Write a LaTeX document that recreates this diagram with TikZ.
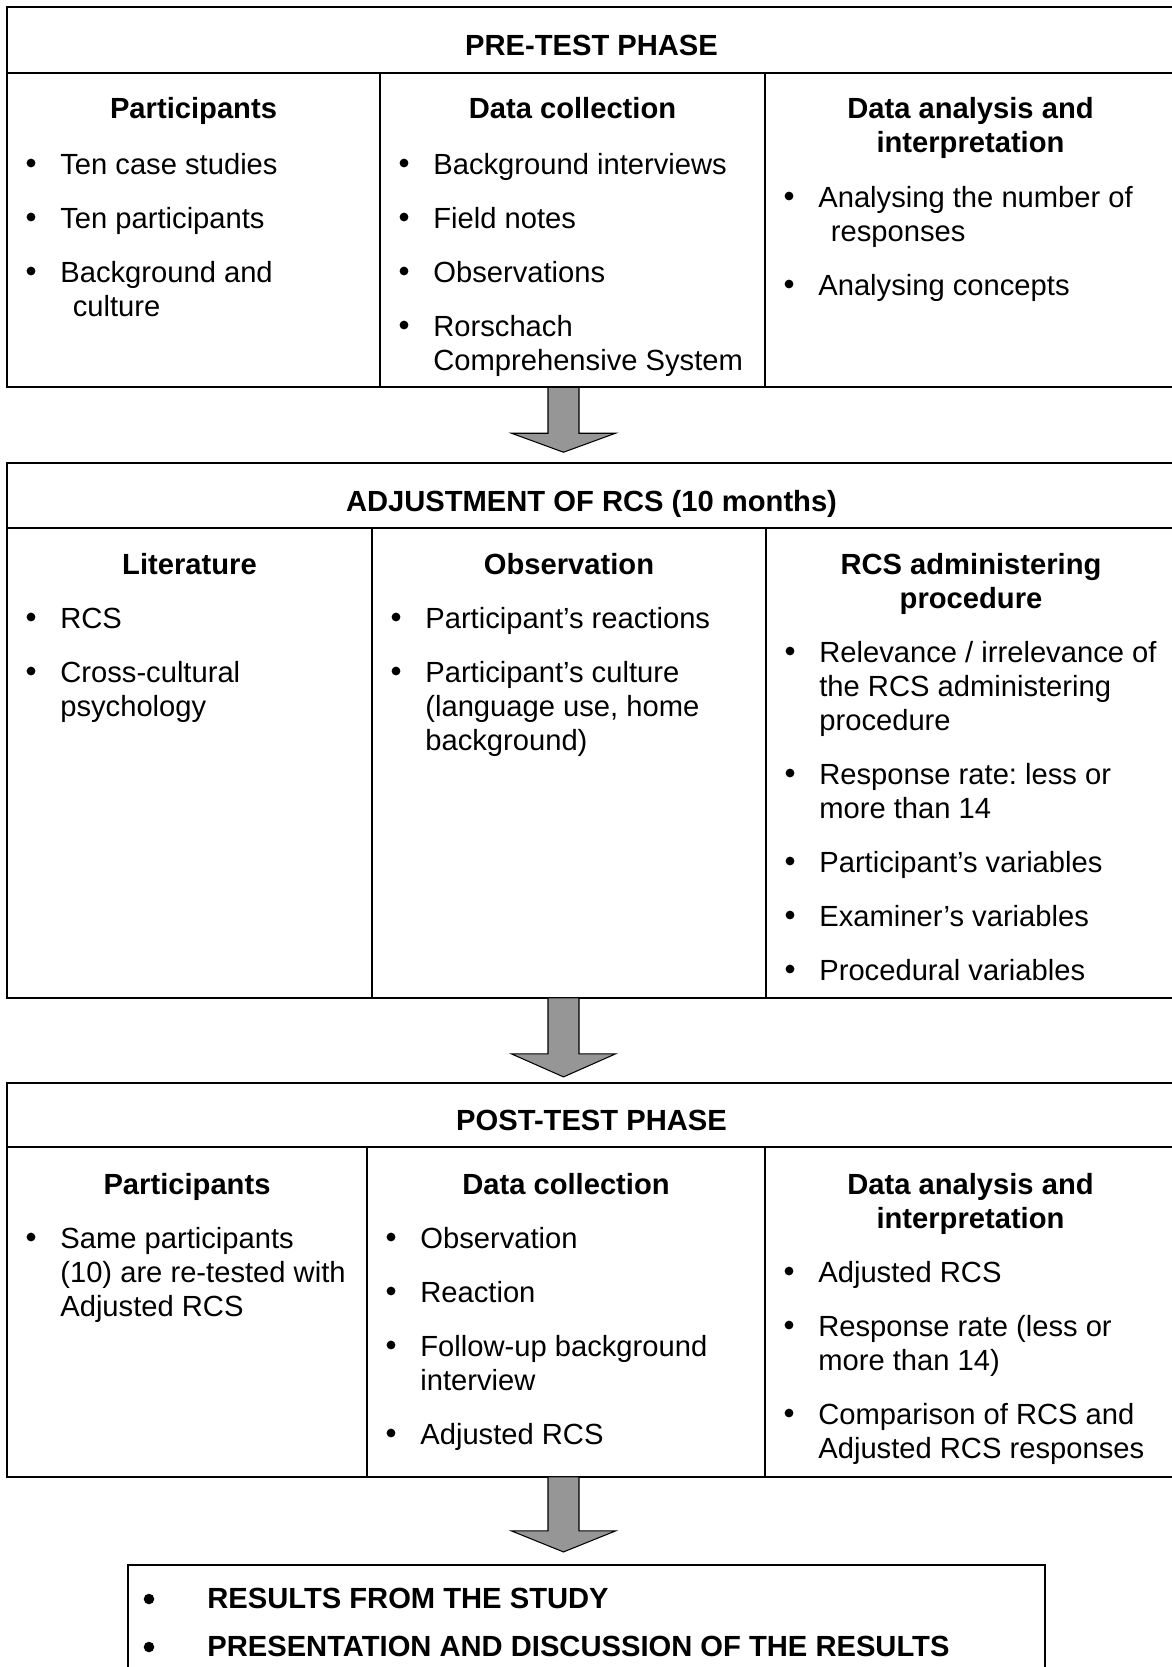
\documentclass[tikz,border=0pt]{standalone}
\usepackage{fontspec}
\setmainfont{Liberation Sans}
\usepackage{tikz}

\definecolor{arrowgray}{RGB}{150,150,150}
\newcommand{\bodyfont}{\fontsize{16.6}{19.4}\selectfont\frenchspacing}
\newcommand{\bulletdot}[2]{\fill (#1,#2) circle (2.5pt);}

\begin{document}
\begin{tikzpicture}[x=0.02cm, y=-0.02cm,
    frame/.style={draw, rectangle, line width=1.1pt, inner sep=0pt, outer sep=0pt, anchor=north west},
    rule/.style={line width=1.1pt},
    phasehead/.style={inner sep=0pt, anchor=base, font=\bodyfont\bfseries},
    coltitle/.style={inner sep=0pt, anchor=base, font=\bodyfont\bfseries},
    entry/.style={inner sep=0pt, anchor=base west, font=\bodyfont},
    bigarrow/.style={draw, fill=arrowgray, line width=0.6pt}
]
\useasboundingbox (0,0) rectangle (1172,1667);
\coordinate (axis) at (563.5,0);

% ====================== PRE-TEST PHASE ======================
\node[frame, minimum width=23.37cm, minimum height=7.6cm] (pre) at (7.3,7.3) {};
\draw[rule] (7.3,72.7) -- (1176,72.7);
\draw[rule] (380,72.7) -- (380,387.3);
\draw[rule] (765,72.7) -- (765,387.3);
\node[phasehead] (prehead) at (591.5,55) {PRE-TEST PHASE};

\node[coltitle] (prepart) at (193.5,118.5) {Participants};
\bulletdot{31}{163} \node[entry] (tencase) at (60,174) {Ten case studies};
\bulletdot{31}{217} \node[entry] (tenpart) at (60,228) {Ten participants};
\bulletdot{31}{271} \node[entry] (backcult) at (60,282) {Background and};
\node[entry] (backcultb) at (72.5,316) {culture};

\node[coltitle] (predata) at (572.5,118.5) {Data collection};
\bulletdot{404}{163} \node[entry] (backint) at (433,174) {Background interviews};
\bulletdot{404}{217} \node[entry] (field) at (433,228) {Field notes};
\bulletdot{404}{271} \node[entry] (observ) at (433,282) {Observations};
\bulletdot{404}{325} \node[entry] (rorsch) at (433,336) {Rorschach};
\node[entry] (rorschb) at (433,370) {Comprehensive System};

\node[coltitle] (preana) at (970.5,118.5) {Data analysis and};
\node[coltitle] (preanab) at (970.5,152.5) {interpretation};
\bulletdot{789}{196} \node[entry] (numresp) at (818,207) {Analysing the number of};
\node[entry] (numrespb) at (830.5,241) {responses};
\bulletdot{789}{284} \node[entry] (concepts) at (818,295) {Analysing concepts};

% ====================== ADJUSTMENT OF RCS ======================
\node[frame, minimum width=23.37cm, minimum height=10.7cm] (adj) at (7.3,463) {};
\draw[rule] (7.3,528) -- (1176,528);
\draw[rule] (372,528) -- (372,998);
\draw[rule] (766,528) -- (766,998);
\node[phasehead] (adjhead) at (591.5,511) {ADJUSTMENT OF RCS (10 months)};

\node[coltitle] (adjlit) at (189.5,574) {Literature};
\bulletdot{31}{617} \node[entry] (rcs) at (60,628) {RCS};
\bulletdot{31}{671} \node[entry] (crosscult) at (60,682) {Cross-cultural};
\node[entry] (crosscultb) at (60,716) {psychology};

\node[coltitle] (adjobs) at (569,574) {Observation};
\bulletdot{396}{617} \node[entry] (reactions) at (425,628) {Participant’s reactions};
\bulletdot{396}{671} \node[entry] (culture) at (425,682) {Participant’s culture};
\node[entry] (cultureb) at (425,716) {(language use, home};
\node[entry] (culturec) at (425,750) {background)};

\node[coltitle] (adjproc) at (971,574) {RCS administering};
\node[coltitle] (adjprocb) at (971,608) {procedure};
\bulletdot{790}{651} \node[entry] (relev) at (819,662) {Relevance / irrelevance of};
\node[entry] (relevb) at (819,696) {the RCS administering};
\node[entry] (relevc) at (819,730) {procedure};
\bulletdot{790}{773} \node[entry] (rate) at (819,784) {Response rate: less or};
\node[entry] (rateb) at (819,818) {more than 14};
\bulletdot{790}{861} \node[entry] (partvar) at (819,872) {Participant’s variables};
\bulletdot{790}{915} \node[entry] (examvar) at (819,926) {Examiner’s variables};
\bulletdot{790}{969} \node[entry] (procvar) at (819,980) {Procedural variables};

% ====================== POST-TEST PHASE ======================
\node[frame, minimum width=23.37cm, minimum height=7.88cm] (post) at (7.3,1083) {};
\draw[rule] (7.3,1147) -- (1176,1147);
\draw[rule] (367,1147) -- (367,1477);
\draw[rule] (765,1147) -- (765,1477);
\node[phasehead] (posthead) at (591.5,1130) {POST-TEST PHASE};

\node[coltitle] (postpart) at (187,1194) {Participants};
\bulletdot{31}{1237} \node[entry] (same) at (60,1248) {Same participants};
\node[entry] (sameb) at (60,1282) {(10) are re-tested with};
\node[entry] (samec) at (60,1316) {Adjusted RCS};

\node[coltitle] (postdata) at (566,1194) {Data collection};
\bulletdot{391}{1237} \node[entry] (pobs) at (420,1248) {Observation};
\bulletdot{391}{1291} \node[entry] (preact) at (420,1302) {Reaction};
\bulletdot{391}{1345} \node[entry] (follow) at (420,1356) {Follow-up background};
\node[entry] (followb) at (420,1390) {interview};
\bulletdot{391}{1433} \node[entry] (padj) at (420,1444) {Adjusted RCS};

\node[coltitle] (postana) at (970.5,1194) {Data analysis and};
\node[coltitle] (postanab) at (970.5,1228) {interpretation};
\bulletdot{789}{1271} \node[entry] (aadj) at (818,1282) {Adjusted RCS};
\bulletdot{789}{1325} \node[entry] (arate) at (818,1336) {Response rate (less or};
\node[entry] (arateb) at (818,1370) {more than 14)};
\bulletdot{789}{1413} \node[entry] (compare) at (818,1424) {Comparison of RCS and};
\node[entry] (compareb) at (818,1458) {Adjusted RCS responses};

% ====================== RESULTS ======================
\node[frame, minimum width=18.34cm, minimum height=2.9cm] (res) at (128,1565) {};
\fill (149,1599) circle (3pt);
\node[entry, font=\bodyfont\bfseries] (results) at (207,1608) {RESULTS FROM THE STUDY};
\fill (149,1647) circle (3pt);
\node[entry, font=\bodyfont\bfseries] (discuss) at (207,1656) {PRESENTATION AND DISCUSSION OF THE RESULTS};

% ====================== ARROWS ======================
\draw[bigarrow] (pre.south -| axis) ++(-15.5,0) -- ++(0,46) -- ++(-36.5,0) -- ++(52,19)
    -- ++(52,-19) -- ++(-36.5,0) -- ++(0,-46) -- cycle;
\draw[bigarrow] (adj.south -| axis) ++(-15.5,0) -- ++(0,56) -- ++(-36.5,0) -- ++(52,23)
    -- ++(52,-23) -- ++(-36.5,0) -- ++(0,-56) -- cycle;
\draw[bigarrow] (post.south -| axis) ++(-15.5,0) -- ++(0,54) -- ++(-36.5,0) -- ++(52,21)
    -- ++(52,-21) -- ++(-36.5,0) -- ++(0,-54) -- cycle;

\end{tikzpicture}
\end{document}
